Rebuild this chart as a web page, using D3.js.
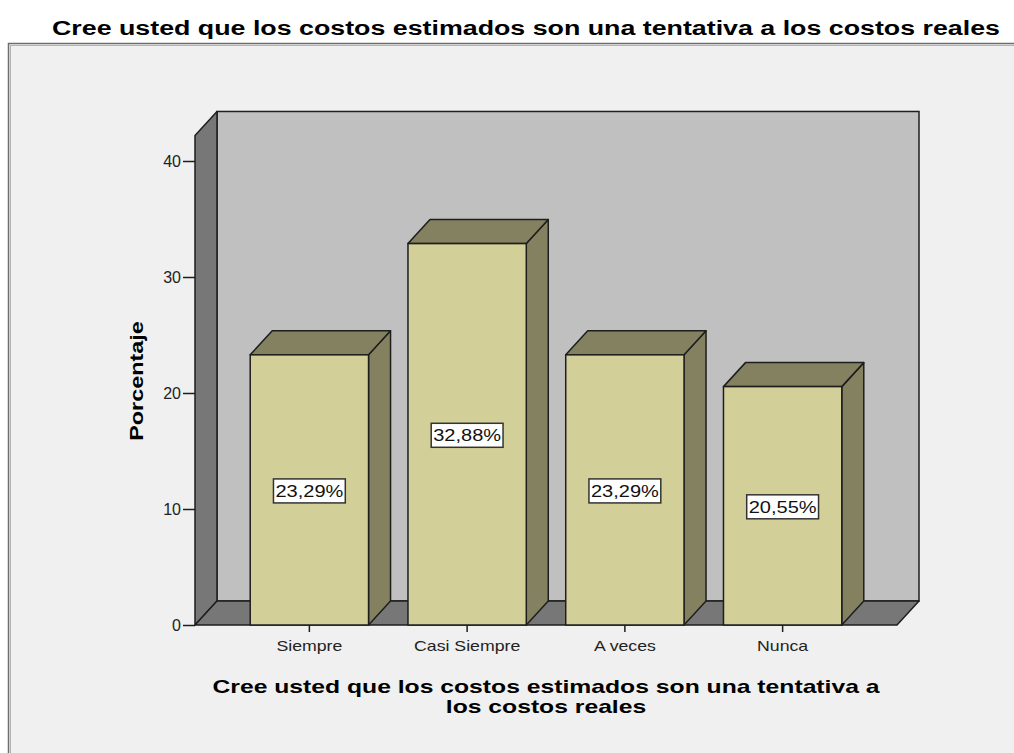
<!DOCTYPE html>
<html>
<head>
<meta charset="utf-8">
<script src="https://cdn.jsdelivr.net/npm/d3@7/dist/d3.min.js"></script>
<style>
  html, body { margin: 0; padding: 0; background: #ffffff; }
  svg { display: block; }
  text { font-family: "Liberation Sans", Arial, sans-serif; }
</style>
</head>
<body>
<svg id="chart" width="1014" height="753"></svg>
<script>
// ---- data ----
const categories = ["Siempre", "Casi Siempre", "A veces", "Nunca"];
const percentages = [23.29, 32.88, 23.29, 20.55];
const valueLabels = ["23,29%", "32,88%", "23,29%", "20,55%"];
const yTicks = [0, 10, 20, 30, 40];
const chartTitle = "Cree usted que los costos estimados son una tentativa a los costos reales";
const xTitleLines = ["Cree usted que los costos estimados son una tentativa a", "los costos reales"];
const yTitle = "Porcentaje";
const yMax = 42.2;

// ---- helpers ----
function stretch(sel, factor) {
  sel.each(function() {
    const w = this.getComputedTextLength();
    d3.select(this).attr("textLength", w * factor).attr("lengthAdjust", "spacingAndGlyphs");
  });
}

// ---- layout ----
const svg = d3.select("#chart");
const DX = 22, DY = 24;           // 3D depth offset
const front = { left: 195, right: 897, bottom: 625 };

const y = d3.scaleLinear().domain([0, yMax]).range([front.bottom, front.bottom - yMax * 11.6]);
const x = d3.scaleBand().domain(categories)
  .range([230.5, 861.5]).paddingInner(0.25).paddingOuter(0.125);

// outer frame
svg.append("rect").attr("x", 0).attr("y", 0).attr("width", 1014).attr("height", 753).attr("fill", "#ffffff");
svg.append("rect").attr("x", 8.5).attr("y", 43.5).attr("width", 1020).attr("height", 720)
  .attr("fill", "#f0f0f0").attr("stroke", "#6e6e6e").attr("stroke-width", 1.5);
svg.append("line").attr("x1", 10).attr("x2", 1014).attr("y1", 45.5).attr("y2", 45.5).attr("stroke", "#b4b4b4");
svg.append("line").attr("x1", 10.5).attr("x2", 10.5).attr("y1", 45).attr("y2", 753).attr("stroke", "#b4b4b4");

// title
svg.append("text").attr("x", 526).attr("y", 35).attr("text-anchor", "middle")
  .attr("font-size", 20).attr("font-weight", "bold").attr("fill", "#000")
  .attr("textLength", 948).attr("lengthAdjust", "spacingAndGlyphs")
  .text(chartTitle);

const topY = y(yMax);
const g = svg.append("g");

// back wall
g.append("rect").attr("x", front.left + DX).attr("y", topY - DY)
  .attr("width", front.right - front.left).attr("height", front.bottom - topY)
  .attr("fill", "#c0c0c0").attr("stroke", "#1e1e1e").attr("stroke-width", 1.5);
// left wall
g.append("polygon")
  .attr("points", [[front.left, topY], [front.left + DX, topY - DY], [front.left + DX, front.bottom - DY], [front.left, front.bottom]].join(" "))
  .attr("fill", "#777777").attr("stroke", "#1e1e1e").attr("stroke-width", 1.5).attr("stroke-linejoin", "round");
// floor
g.append("polygon")
  .attr("points", [[front.left, front.bottom], [front.left + DX, front.bottom - DY], [front.right + DX, front.bottom - DY], [front.right, front.bottom]].join(" "))
  .attr("fill", "#777777").attr("stroke", "#1e1e1e").attr("stroke-width", 1.5).attr("stroke-linejoin", "round");

// bars
const data = categories.map((c, i) => ({ c, v: percentages[i], label: valueLabels[i] }));
const bars = g.selectAll("g.bar").data(data).enter().append("g").attr("class", "bar");
bars.each(function(d) {
  const s = d3.select(this);
  const x0 = x(d.c), x1 = x(d.c) + x.bandwidth(), yt = y(d.v), yb = y(0);
  // side
  s.append("polygon")
    .attr("points", [[x1, yt], [x1 + DX, yt - DY], [x1 + DX, yb - DY], [x1, yb]].join(" "))
    .attr("fill", "#838160").attr("stroke", "#1e1e1e").attr("stroke-width", 1.5).attr("stroke-linejoin", "round");
  // top
  s.append("polygon")
    .attr("points", [[x0, yt], [x0 + DX, yt - DY], [x1 + DX, yt - DY], [x1, yt]].join(" "))
    .attr("fill", "#838160").attr("stroke", "#1e1e1e").attr("stroke-width", 1.5).attr("stroke-linejoin", "round");
  // front
  s.append("rect").attr("x", x0).attr("y", yt).attr("width", x1 - x0).attr("height", yb - yt)
    .attr("fill", "#d3cf98").attr("stroke", "#1e1e1e").attr("stroke-width", 1.5);
  // label
  const cx = (x0 + x1) / 2, cy = (yt + yb) / 2 + 1;
  const t = s.append("text").attr("x", cx).attr("y", cy + 6).attr("text-anchor", "middle")
    .attr("font-size", 16).attr("fill", "#111").text(d.label);
  stretch(t, 1.25);
  const w = +t.attr("textLength");
  s.insert("rect", "text").attr("x", cx - w / 2 - 2).attr("y", cy - 12).attr("width", w + 4).attr("height", 24)
    .attr("fill", "#ffffff").attr("stroke", "#333").attr("stroke-width", 1.5);
});

// y axis
const yAxis = d3.axisLeft(y).tickValues(yTicks).tickSize(12).tickPadding(2).tickFormat(d3.format("d"));
const ya = svg.append("g").attr("transform", `translate(${front.left},0)`).call(yAxis);
ya.select(".domain").remove();
ya.selectAll(".tick line").attr("stroke", "#1e1e1e").attr("stroke-width", 1.5);
ya.selectAll(".tick text").attr("font-size", 16).attr("fill", "#222").attr("font-family", "Liberation Sans, Arial, sans-serif");

// x axis
const xAxis = d3.axisBottom(x).tickSize(7).tickPadding(8);
const xa = svg.append("g").attr("transform", `translate(0,${front.bottom})`).call(xAxis);
xa.select(".domain").remove();
xa.selectAll(".tick line").attr("stroke", "#1e1e1e").attr("stroke-width", 1.5);
const xt = xa.selectAll(".tick text").attr("font-size", 15).attr("fill", "#222").attr("font-family", "Liberation Sans, Arial, sans-serif");
stretch(xt, 1.18);

// axis titles
const yt = svg.append("text").attr("transform", "translate(143,381) rotate(-90)").attr("text-anchor", "middle")
  .attr("font-size", 18).attr("font-weight", "bold").attr("fill", "#000").text(yTitle);
stretch(yt, 1.3);
const xtl = svg.selectAll("text.xt").data(xTitleLines).enter().append("text").attr("class", "xt")
  .attr("x", 546).attr("y", (d, i) => 693 + i * 20).attr("text-anchor", "middle")
  .attr("font-size", 19).attr("font-weight", "bold").attr("fill", "#000").text(d => d);
stretch(xtl, 1.3);
</script>
</body>
</html>
